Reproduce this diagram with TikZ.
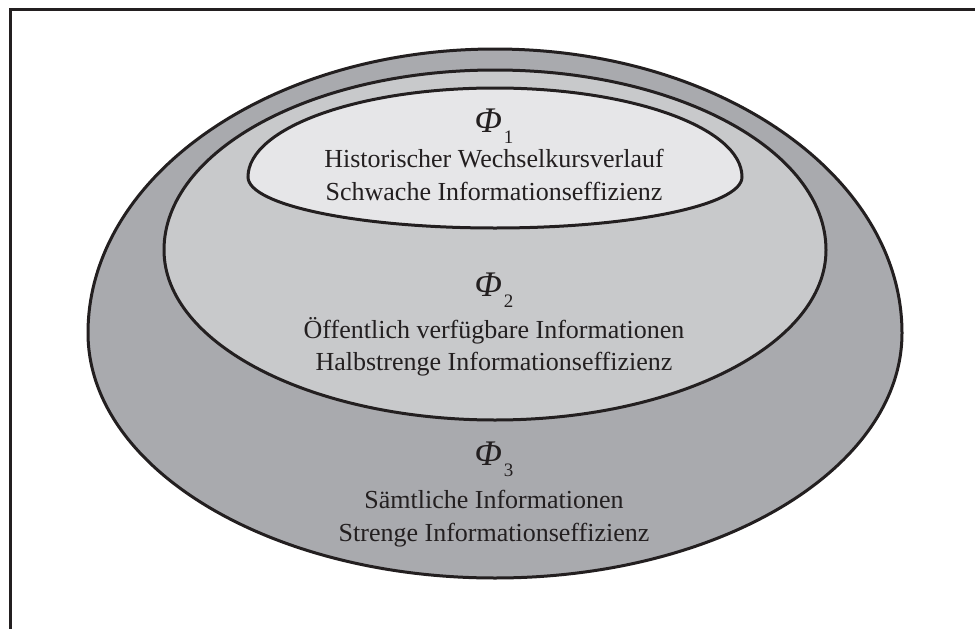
\documentclass[tikz,border=0pt]{standalone}
\usepackage{fontspec}
\setmainfont{Liberation Serif}
\definecolor{rimline}{HTML}{231F20}
\definecolor{shellC}{HTML}{A9AAAE}
\definecolor{shellB}{HTML}{C8C9CB}
\definecolor{shellA}{HTML}{E6E6E8}
\tikzset{
  shell/.style={draw=rimline, line width=3pt},
  caption/.style={anchor=base, inner sep=0pt, font=\fontsize{26}{32}\selectfont, text=rimline},
  phi/.style={anchor=base, inner sep=0pt, text=rimline}
}
\newcommand{\philabel}[1]{{\fontsize{36}{36}\selectfont\itshape Φ}\kern2pt\raisebox{-11pt}{\fontsize{19}{19}\selectfont #1}}
% egg-like oval: #1 centre x, #2 widest y, #3 half width, #4 upper height, #5 lower height
\newcommand{\eggpath}[5]{(#1-#3,#2) arc[start angle=180, end angle=0, x radius=#3pt, y radius=#4pt]
  arc[start angle=0, end angle=-180, x radius=#3pt, y radius=#5pt] -- cycle}
\begin{document}
\begin{tikzpicture}[x=1pt,y=-1pt]
\useasboundingbox (0,0) rectangle (975,629);
\fill[white] (0,0) rectangle (975,629);
% partial frame: top and left edges
\coordinate (ftl) at (10.5,9.5);
\coordinate (ftr) at (975,9.5);
\coordinate (fbl) at (10.5,629);
\draw[rimline, line width=3pt] (ftr) -- (ftl) -- (fbl);
% nested information sets
\filldraw[shell, fill=shellC] \eggpath{495}{333}{407}{284}{245};
\filldraw[shell, fill=shellB] \eggpath{495}{250}{331}{180}{170};
\filldraw[shell, fill=shellA] \eggpath{495}{177}{247}{89}{51};
% labels of the weak level
\node[phi] (p1) at (494,132) {\philabel{1}};
\node[caption] (t1a) at (494,167) {Historischer Wechselkursverlauf};
\node[caption] (t1b) at (494,200) {Schwache Informationseffizienz};
% labels of the semi-strong level
\node[phi] (p2) at (494,296) {\philabel{2}};
\node[caption] (t2a) at (494,338) {Öffentlich verfügbare Informationen};
\node[caption] (t2b) at (494,370) {Halbstrenge Informationseffizienz};
% labels of the strong level
\node[phi] (p3) at (494,465) {\philabel{3}};
\node[caption] (t3a) at (494,508) {Sämtliche Informationen};
\node[caption] (t3b) at (494,541) {Strenge Informationseffizienz};
\end{tikzpicture}
\end{document}
